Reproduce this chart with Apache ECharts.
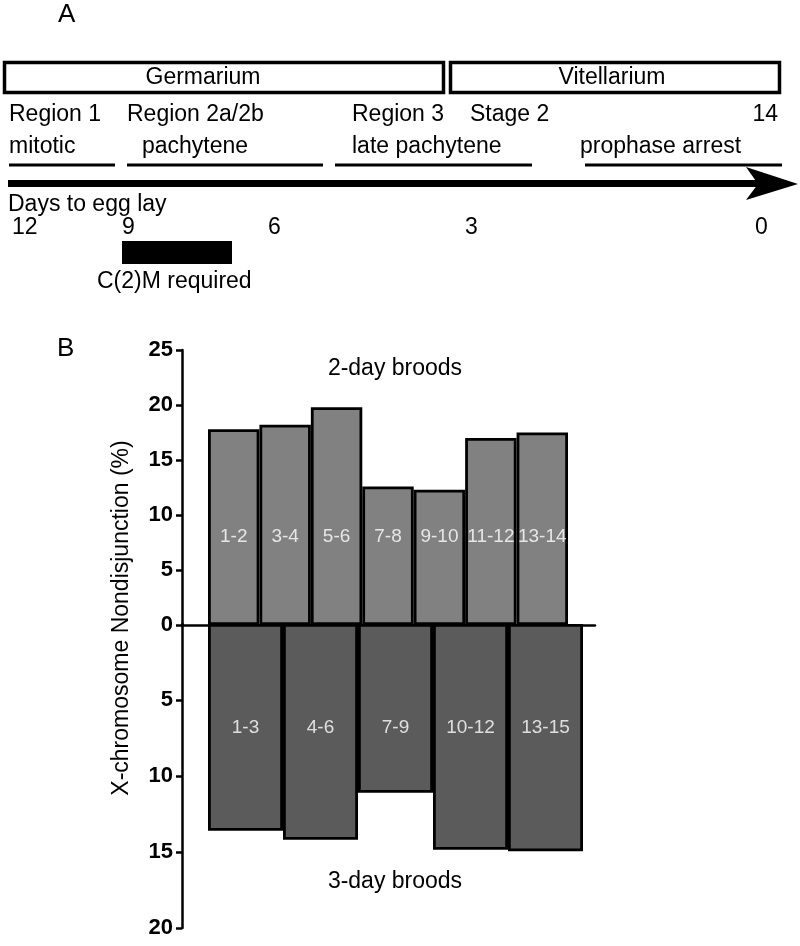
<!DOCTYPE html>
<html>
<head>
<meta charset="utf-8">
<script src="https://cdn.jsdelivr.net/npm/echarts@6/dist/echarts.min.js"></script>
<style>
  html, body { margin: 0; padding: 0; background: #fff; }
  #chart { width: 800px; height: 946px; }
</style>
</head>
<body>
<div id="chart"></div>
<script>
// ---- Data (panel B) ----
const twoDayBroods = ['1-2', '3-4', '5-6', '7-8', '9-10', '11-12', '13-14'];
const twoDayValues = [17.8, 18.2, 19.8, 12.6, 12.3, 17.0, 17.5];
const threeDayBroods = ['1-3', '4-6', '7-9', '10-12', '13-15'];
const threeDayValues = [13.6, 14.2, 11.1, 14.85, 14.95];
const topTicks = [0, 5, 10, 15, 20, 25];
const bottomTicks = [0, 5, 10, 15, 20];

// ---- Texts (panel A) ----
const compartments = ['Germarium', 'Vitellarium'];
const stageLabels = ['Region 1', 'Region 2a/2b', 'Region 3', 'Stage 2', '14'];
const phaseLabels = ['mitotic', 'pachytene', 'late pachytene', 'prophase arrest'];
const dayLabels = ['12', '9', '6', '3', '0'];

// ---- Layout (positions kept separate from data) ----
const FONT = '"Liberation Sans", Arial, sans-serif';
const stagePos = [[9, 'left'], [127, 'left'], [352, 'left'], [470, 'left'], [778, 'right']];
const phasePos = [9, 142, 352, 580];
const underlines = [[9, 115], [127, 323], [335, 532], [585, 782]];
const dayPos = [12, 122, 268, 465, 755];
const boxes = [[4.5, 62.5, 439, 30], [450.5, 62.5, 329, 30]];
const boxCenters = [203, 612];
const TOP_LABEL_LEVEL = 8;
const BOTTOM_LABEL_LEVEL = 6.8;

function txt(text, x, y, size, align, extra) {
  return Object.assign({
    type: 'text', x: x, y: y,
    style: { text: text, fill: '#000', font: size + 'px ' + FONT, textAlign: align || 'left', textVerticalAlign: 'middle' }
  }, extra || {});
}

const graphics = [];
graphics.push(txt('A', 58, 15, 26, 'left'));
compartments.forEach((c, i) => {
  const b = boxes[i];
  graphics.push({ type: 'rect', shape: { x: b[0], y: b[1], width: b[2], height: b[3] }, style: { fill: '#fff', stroke: '#000', lineWidth: 3.5 } });
  graphics.push(txt(c, boxCenters[i], 78, 23, 'center'));
});
stageLabels.forEach((s, i) => graphics.push(txt(s, stagePos[i][0], 115, 23, stagePos[i][1])));
phaseLabels.forEach((s, i) => graphics.push(txt(s, phasePos[i], 147, 23, 'left')));
underlines.forEach(u => graphics.push({ type: 'line', shape: { x1: u[0], y1: 165, x2: u[1], y2: 165 }, style: { stroke: '#000', lineWidth: 3 } }));
graphics.push({ type: 'line', shape: { x1: 8, y1: 183.5, x2: 760, y2: 183.5 }, style: { stroke: '#000', lineWidth: 7 } });
graphics.push({ type: 'polygon', shape: { points: [[746, 167], [798, 184], [746, 200], [758, 184]] }, style: { fill: '#000' } });
graphics.push(txt('Days to egg lay', 8, 205, 23, 'left'));
dayLabels.forEach((d, i) => graphics.push(txt(d, dayPos[i], 228, 23, 'left')));
graphics.push({ type: 'rect', shape: { x: 122, y: 241, width: 110, height: 23 }, style: { fill: '#000' } });
graphics.push(txt('C(2)M required', 97, 282, 23, 'left'));

// panel B texts
graphics.push(txt('B', 57, 349, 26, 'left'));
graphics.push(txt('2-day broods', 395, 369, 23, 'center'));
graphics.push(txt('3-day broods', 395, 882, 23, 'center'));
graphics.push(txt('X-chromosome Nondisjunction (%)', 122, 618, 23, 'center', { rotation: Math.PI / 2 }));

const axisLineStyle = { color: '#000', width: 2.5 };
const yLabel = { color: '#000', fontFamily: FONT, fontWeight: 'bold', fontSize: 22, margin: 9 };

const option = {
  animation: false,
  backgroundColor: '#fff',
  graphic: { elements: graphics },
  grid: [
    { left: 208, top: 350, width: 360, height: 275 },
    { left: 208, top: 624, width: 375, height: 304 },
    { left: 182, top: 624, width: 413, height: 1 }
  ],
  xAxis: [
    { gridIndex: 0, type: 'category', data: twoDayBroods, show: false },
    { gridIndex: 1, type: 'category', data: threeDayBroods, show: false },
    { gridIndex: 2, type: 'value', min: 0, max: 1, axisLine: { show: true, lineStyle: axisLineStyle }, axisTick: { show: false }, axisLabel: { show: false }, splitLine: { show: false } }
  ],
  yAxis: [
    { gridIndex: 0, type: 'value', min: topTicks[0], max: topTicks[topTicks.length - 1], interval: 5, offset: 26,
      axisLine: { show: true, lineStyle: axisLineStyle }, axisTick: { show: true, length: 6, lineStyle: { color: '#000', width: 2.5 } },
      axisLabel: yLabel, splitLine: { show: false } },
    { gridIndex: 1, type: 'value', inverse: true, min: bottomTicks[0], max: bottomTicks[bottomTicks.length - 1], interval: 5, offset: 26,
      axisLine: { show: true, lineStyle: axisLineStyle }, axisTick: { show: true, length: 6, lineStyle: { color: '#000', width: 2.5 } },
      axisLabel: Object.assign({ showMinLabel: false }, yLabel), splitLine: { show: false } },
    { gridIndex: 2, type: 'value', show: false }
  ],
  series: [
    { type: 'bar', xAxisIndex: 0, yAxisIndex: 0, data: twoDayValues, barCategoryGap: '0%',
      itemStyle: { color: '#818181', borderColor: '#000', borderWidth: 2.8 } },
    { type: 'bar', xAxisIndex: 1, yAxisIndex: 1, data: threeDayValues, barCategoryGap: '0%',
      itemStyle: { color: '#5b5b5b', borderColor: '#000', borderWidth: 2.8 } },
    { type: 'scatter', xAxisIndex: 0, yAxisIndex: 0, symbolSize: 0, z: 5,
      data: twoDayBroods.map(c => [c, TOP_LABEL_LEVEL]),
      label: { show: true, position: 'inside', formatter: p => p.value[0], color: '#fff', fontFamily: FONT, fontSize: 19 } },
    { type: 'scatter', xAxisIndex: 1, yAxisIndex: 1, symbolSize: 0, z: 5,
      data: threeDayBroods.map(c => [c, BOTTOM_LABEL_LEVEL]),
      label: { show: true, position: 'inside', formatter: p => p.value[0], color: '#fff', fontFamily: FONT, fontSize: 19 } }
  ]
};

const chart = echarts.init(document.getElementById('chart'), null, { renderer: 'canvas' });
chart.setOption(option);
</script>
</body>
</html>
